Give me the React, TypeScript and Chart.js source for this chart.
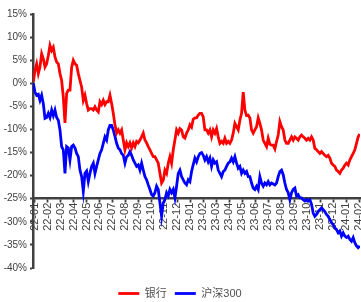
import React, { useEffect, useRef } from 'react';
import { Chart, registerables } from 'chart.js';

Chart.register(...registerables);

// Month tick labels (x axis), positioned at month index 0..25
const monthLabels = [
  '22-01', '22-02', '22-03', '22-04', '22-05', '22-06', '22-07', '22-08', '22-09', '22-10', '22-11', '22-12',
  '23-01', '23-02', '23-03', '23-04', '23-05', '23-06', '23-07', '23-08', '23-09', '23-10', '23-11', '23-12',
  '24-01', '24-02',
];

// Samples are taken every ~0.128 month (about every 2.7 trading days) from early Jan 2022
const sampleStart = -0.09;
const sampleStep = 0.1282;

// Cumulative return (%) — 银行
const bankValues = [
  0.3, 2.8, 4.2, 2.1, 3.5, 6.4, 5.3, 3.5, 4.2, 6.0,
  8.2, 7.1, 7.8, 5.7, 4.6, 4.2, 2.1, 0.6, -3.0, -8.6,
  -2.2, -1.5, -1.5, 3.5, 5.0, 4.2, 3.9, 2.1, 0.6, -0.8,
  -3.7, -2.6, -4.4, -5.8, -5.5, -5.5, -5.8, -5.1, -5.8, -6.2,
  -4.0, -4.6, -3.7, -4.6, -4.0, -4.0, -2.6, -4.4, -6.5, -9.0,
  -10.8, -10.1, -10.8, -10.1, -12.3, -14.4, -12.9, -13.7, -12.9, -14.0,
  -12.9, -13.7, -12.6, -12.9, -12.3, -11.6, -10.8, -12.3, -12.9, -13.7,
  -14.4, -15.2, -15.9, -15.9, -16.6, -17.3, -19.5, -21.6, -21.0, -18.8,
  -19.5, -17.3, -15.9, -17.3, -14.4, -12.3, -10.1, -10.8, -9.8, -10.1,
  -11.6, -11.9, -10.8, -10.1, -9.0, -9.5, -7.8, -7.5, -7.5, -6.9,
  -6.5, -6.5, -7.3, -10.1, -10.1, -10.8, -10.1, -11.6, -10.1, -10.8,
  -9.8, -11.6, -13.0, -12.6, -13.0, -11.9, -13.0, -12.6, -13.0, -12.3,
  -10.8, -8.7, -9.4, -10.1, -8.0, -6.5, -1.9, -5.8, -7.0, -6.9,
  -7.5, -10.1, -10.8, -10.1, -9.4, -7.5, -8.7, -10.1, -12.3, -13.0,
  -13.7, -11.9, -13.2, -13.4, -13.4, -14.2, -12.6, -11.2, -8.3, -9.4,
  -10.1, -12.3, -13.0, -13.0, -12.3, -11.6, -12.3, -11.6, -11.9, -12.3,
  -11.6, -11.2, -11.6, -11.9, -12.3, -11.9, -12.3, -11.6, -12.3, -14.1,
  -14.4, -14.8, -15.2, -14.8, -15.2, -15.6, -15.9, -15.6, -16.2, -17.3,
  -17.7, -18.0, -18.8, -19.1, -19.5, -18.8, -18.4, -17.7, -17.3, -17.7,
  -16.6, -15.9, -15.2, -14.4, -13.0, -11.6, -11.0,
];

// Cumulative return (%) — 沪深300
const csi300Values = [
  0, -1.9, -2.6, -2.4, -3.7, -2.6, -4.4, -7.6, -7.4, -6.5,
  -7.4, -5.8, -7.0, -5.8, -7.4, -8.0, -10.1, -13.7, -14.4, -19.5,
  -13.7, -14.0, -16.6, -13.7, -13.4, -14.0, -15.2, -15.9, -18.8, -20.2,
  -23.4, -19.5, -19.0, -21.3, -19.5, -18.0, -17.3, -19.5, -18.0, -16.6,
  -15.2, -14.4, -13.0, -11.6, -12.3, -10.1, -9.1, -9.1, -10.1, -11.5,
  -13.0, -14.0, -14.4, -15.2, -15.6, -17.3, -15.9, -15.6, -14.8, -15.6,
  -16.6, -17.3, -18.0, -17.7, -18.8, -17.3, -18.8, -20.2, -20.9, -22.0,
  -23.0, -24.1, -24.4, -23.7, -22.3, -23.0, -25.9, -28.8, -25.9, -25.2,
  -23.7, -24.4, -23.0, -23.7, -23.0, -24.8, -22.3, -19.5, -18.8, -20.2,
  -20.9, -21.6, -22.0, -20.9, -21.3, -19.1, -17.6, -16.2, -17.0, -15.9,
  -15.2, -15.0, -15.6, -16.6, -15.9, -17.0, -16.2, -18.0, -16.6, -17.3,
  -17.0, -18.8, -19.5, -20.2, -19.1, -18.8, -18.0, -17.3, -17.0, -16.2,
  -17.0, -15.9, -17.3, -18.4, -18.0, -19.5, -18.8, -19.5, -19.1, -20.2,
  -20.2, -21.6, -22.7, -23.0, -22.3, -23.0, -20.2, -21.6, -22.3, -21.6,
  -22.0, -21.3, -22.0, -21.6, -21.8, -22.0, -21.6, -20.2, -19.1, -18.8,
  -19.8, -21.6, -23.0, -23.7, -25.2, -23.7, -23.0, -22.7, -24.4, -24.1,
  -24.8, -24.8, -25.2, -25.5, -25.2, -25.5, -25.2, -26.2, -28.1, -28.8,
  -28.4, -27.8, -27.4, -27.0, -27.4, -27.8, -28.4, -28.8, -29.5, -30.2,
  -30.6, -31.3, -31.7, -32.4, -32.0, -33.1, -32.4, -33.1, -33.4, -33.1,
  -33.8, -34.2, -33.4, -34.5, -35.2, -35.6, -35.2,
];

const yMin = -40;
const yMax = 15;
const yStep = 5;
const xAxisCross = -25;

const FONT = "'Liberation Sans', Arial, 'Noto Sans CJK SC', sans-serif";
const TEXT = '#404040';
const AXIS = '#404040';

export default function App() {
  const ref = useRef<HTMLCanvasElement>(null);

  useEffect(() => {
    document.body.style.margin = '0';
    const toPoints = (vals: number[]) =>
      vals.map((v, i) => ({ x: sampleStart + i * sampleStep, y: v }));

    const chart = new Chart(ref.current as HTMLCanvasElement, {
      type: 'line',
      data: {
        datasets: [
          {
            label: '银行',
            data: toPoints(bankValues),
            borderColor: '#FF0000',
            backgroundColor: '#FF0000',
            borderWidth: 2.8,
            pointRadius: 0,
            tension: 0,
          },
          {
            label: '沪深300',
            data: toPoints(csi300Values),
            borderColor: '#0000FF',
            backgroundColor: '#0000FF',
            borderWidth: 2.8,
            pointRadius: 0,
            tension: 0,
          },
        ],
      },
      options: {
        responsive: false,
        animation: false,
        layout: { padding: { top: 14, right: 1, left: 0, bottom: 0 } },
        plugins: {
          tooltip: { enabled: false },
          legend: {
            position: 'bottom',
            maxHeight: 34,
            title: { display: true, text: '', padding: 0, font: { size: 10 } },
            labels: {
              usePointStyle: true,
              pointStyle: 'line',
              pointStyleWidth: 21,
              padding: 8,
              color: '#505050',
              font: { size: 11, family: FONT },
            },
          },
        },
        scales: {
          x: {
            type: 'linear',
            position: { y: xAxisCross },
            min: -0.115,
            max: 25.05,
            afterBuildTicks: (axis: any) => {
              axis.ticks = monthLabels.map((_, i) => ({ value: i }));
            },
            afterFit: (s: any) => {
              s.paddingLeft = 0;
              s.paddingRight = 0;
            },
            grid: {
              display: true,
              drawOnChartArea: false,
              drawTicks: true,
              tickLength: 3,
              tickColor: AXIS,
              tickWidth: 1.8,
            },
            border: { display: true, color: AXIS, width: 2.5 },
            ticks: {
              autoSkip: false,
              maxRotation: 90,
              minRotation: 90,
              padding: 1,
              color: TEXT,
              font: { size: 11, family: FONT },
              callback: (v: any) => monthLabels[v as number] ?? '',
            },
          },
          y: {
            min: yMin,
            max: yMax,
            afterFit: (s: any) => {
              s.width = 33;
            },
            grid: {
              display: true,
              drawOnChartArea: false,
              drawTicks: true,
              tickLength: 3,
              tickColor: AXIS,
              tickWidth: 1.8,
            },
            border: { display: true, color: AXIS, width: 2.5 },
            ticks: {
              stepSize: yStep,
              padding: 3,
              color: TEXT,
              font: { size: 10, family: FONT },
              callback: (v: any) => `${v}%`,
            },
          },
        },
      },
    } as any);

    return () => chart.destroy();
  }, []);

  return <canvas ref={ref} width={361} height={302} style={{ display: 'block' }} />;
}
